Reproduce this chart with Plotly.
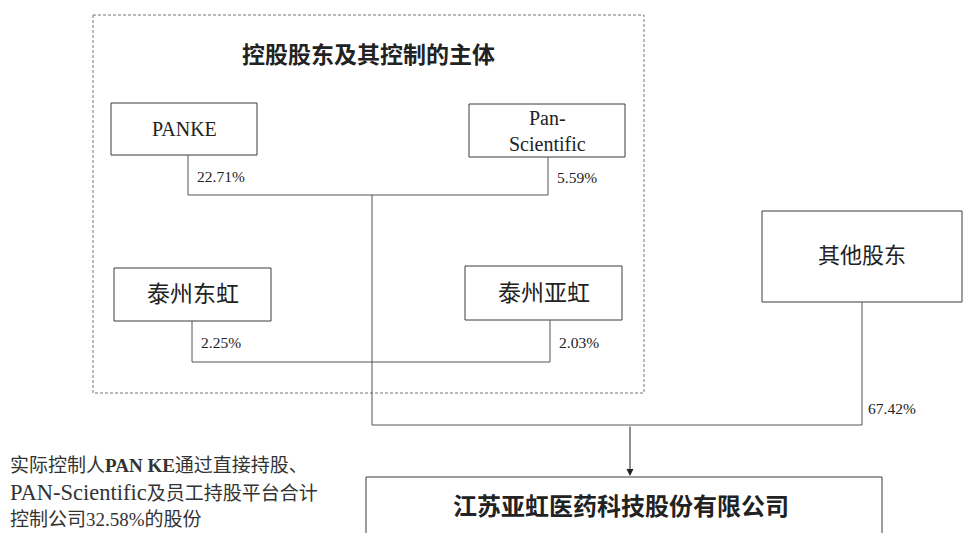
import plotly.graph_objects as go

# ---- data ----
group_title = "控股股东及其控制的主体"
holders = ["PANKE", "Pan-<br>Scientific", "泰州东虹", "泰州亚虹"]
holder_pct = ["22.71%", "5.59%", "2.25%", "2.03%"]
other_name = "其他股东"
other_pct = "67.42%"
company = "江苏亚虹医药科技股份有限公司"
note_lines = ["实际控制人<b>PAN KE</b>通过直接持股、",
              "<span style='font-size:22.5px'>PAN-Scientific</span>及员工持股平台合计",
              "控制公司32.58%的股份"]

# ---- layout (pixel space of the page) ----
W, H = 963, 533
boxes = {  # x0, y0, x1, y1
    0: (111, 103, 257, 155),
    1: (469, 104, 625, 157),
    2: (114, 268, 271, 321),
    3: (465, 266, 622, 320),
}
other_box = (762, 211, 962, 302)
comp_box = (366, 477, 882, 560)
group_box = (93, 15, 644, 393)
conn_x = [188, 548, 192, 550]
join_y = [195, 195, 362, 362]
trunk_x = 372
bus_y = 425
arrow_x = 630
other_x = 862

FONT = "Liberation Serif, Times New Roman, Noto Sans CJK SC, serif"
LINE = "#555555"
BORDER = "#3a3a3a"
TXT = "#222222"

shapes = []
annotations = []

shapes.append(dict(type="rect", x0=group_box[0], y0=group_box[1], x1=group_box[2], y1=group_box[3],
                   line=dict(color="#777777", width=1, dash="3px,2px")))
annotations.append(dict(x=(group_box[0] + group_box[2]) / 2, y=55, text="<b>" + group_title + "</b>",
                        showarrow=False, font=dict(size=23, color=TXT, family=FONT)))

sizes = [20, 20, 23, 23]
for i, name in enumerate(holders):
    x0, y0, x1, y1 = boxes[i]
    shapes.append(dict(type="rect", x0=x0, y0=y0, x1=x1, y1=y1, line=dict(color=BORDER, width=1),
                       fillcolor="white"))
    annotations.append(dict(x=(x0 + x1) / 2, y=(y0 + y1) / 2, text=name, showarrow=False,
                            font=dict(size=sizes[i], color=TXT, family=FONT)))
    shapes.append(dict(type="line", x0=conn_x[i], y0=y1, x1=conn_x[i], y1=join_y[i],
                       line=dict(color=LINE, width=1)))
    annotations.append(dict(x=conn_x[i] + 7, y=(y1 + join_y[i]) / 2 + 1, text=holder_pct[i], showarrow=False,
                            xanchor="left", font=dict(size=15.5, color=TXT, family=FONT)))

shapes.append(dict(type="line", x0=conn_x[0], y0=join_y[0], x1=conn_x[1], y1=join_y[1], line=dict(color=LINE, width=1)))
shapes.append(dict(type="line", x0=conn_x[2], y0=join_y[2], x1=conn_x[3], y1=join_y[3], line=dict(color=LINE, width=1)))
shapes.append(dict(type="line", x0=trunk_x, y0=join_y[0], x1=trunk_x, y1=bus_y, line=dict(color=LINE, width=1)))
shapes.append(dict(type="line", x0=trunk_x, y0=bus_y, x1=other_x, y1=bus_y, line=dict(color=LINE, width=1)))

shapes.append(dict(type="rect", x0=other_box[0], y0=other_box[1], x1=other_box[2], y1=other_box[3],
                   line=dict(color=BORDER, width=1), fillcolor="white"))
annotations.append(dict(x=other_x, y=(other_box[1] + other_box[3]) / 2 - 1, text=other_name, showarrow=False,
                        font=dict(size=22, color=TXT, family=FONT)))
shapes.append(dict(type="line", x0=other_x, y0=other_box[3], x1=other_x, y1=bus_y, line=dict(color=LINE, width=1)))
annotations.append(dict(x=other_x + 4, y=408, text=other_pct, showarrow=False, xanchor="left",
                        font=dict(size=15.5, color=TXT, family=FONT)))

annotations.append(dict(x=arrow_x, y=comp_box[1] - 1, ax=arrow_x, ay=bus_y, xref="x", yref="y",
                        axref="x", ayref="y", text="", showarrow=True, arrowhead=2, arrowsize=1.4,
                        arrowwidth=1, arrowcolor="#222222"))

shapes.append(dict(type="rect", x0=comp_box[0], y0=comp_box[1], x1=comp_box[2], y1=comp_box[3],
                   line=dict(color=BORDER, width=1), fillcolor="white"))
annotations.append(dict(x=621, y=507, text="<b>" + company + "</b>",
                        showarrow=False, font=dict(size=24, color=TXT, family=FONT)))

for k, line in enumerate(note_lines):
    annotations.append(dict(x=8, y=465 + k * 27, text=line, showarrow=False, xanchor="left",
                            font=dict(size=19, color="#333333", family=FONT)))

fig = go.Figure()
fig.update_layout(width=W, height=H, margin=dict(l=0, r=0, t=0, b=0),
                  paper_bgcolor="white", plot_bgcolor="white",
                  xaxis=dict(range=[0, W], visible=False, fixedrange=True),
                  yaxis=dict(range=[H, 0], visible=False, fixedrange=True),
                  shapes=shapes, annotations=annotations, showlegend=False)
fig.write_html("out.html", config={"displayModeBar": False, "staticPlot": True},
               post_script="document.body.style.margin='0';document.body.style.overflow='hidden';")
